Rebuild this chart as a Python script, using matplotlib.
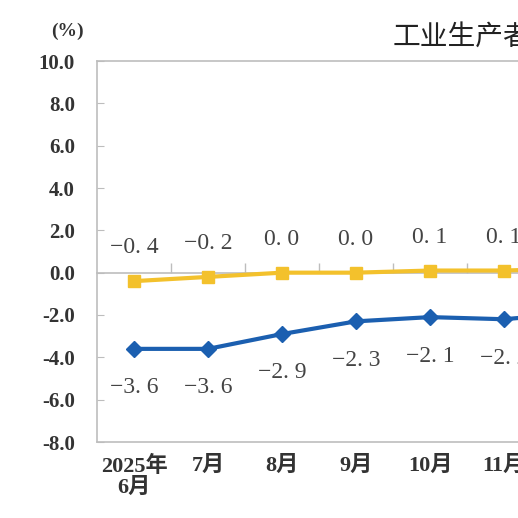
import matplotlib
matplotlib.use("Agg")
import matplotlib.pyplot as plt

# PPI year-on-year and month-on-month change (%)
months = ["2025年\n6月", "7月", "8月", "9月", "10月", "11月", "12月"]
mom = [-0.4, -0.2, 0.0, 0.0, 0.1, 0.1, 0.2]
yoy = [-3.6, -3.6, -2.9, -2.3, -2.1, -2.2, -1.9]
yticks = [-8, -6, -4, -2, 0, 2, 4, 6, 8, 10]

serif = ["Liberation Serif", "Noto Sans CJK SC"]
grey = "#bdbdbd"
gold = "#f3c12c"
blue = "#1b5fb0"

fig = plt.figure(figsize=(5.18, 5.18), dpi=100)
ax = fig.add_axes([97 / 518, 76 / 518, 518 / 518, 381 / 518])

x = list(range(len(months)))
ax.plot(x, mom, color=gold, lw=3, marker="s", ms=8, zorder=3)
ax.plot(x, yoy, color=blue, lw=3, marker="D", ms=8, zorder=3)

for xi, v in zip(x, mom):
    ax.annotate(f"{v:.1f}".replace("-", "\u2212").replace(".", ". "), (xi, v),
                xytext=(0, 24), textcoords="offset points", ha="center", va="center",
                fontsize=17, family=serif, color="#444444")
for xi, v in zip(x, yoy):
    ax.annotate(f"{v:.1f}".replace("-", "\u2212").replace(".", ". "), (xi, v),
                xytext=(0, -28), textcoords="offset points", ha="center", va="center",
                fontsize=17, family=serif, color="#444444")

ax.set_xlim(-0.5, len(months) - 0.5)
ax.set_ylim(-8, 10)
ax.set_yticks(yticks)
ax.set_yticklabels([f"{t:.1f}" for t in yticks], family=serif, fontsize=15,
                   fontweight="bold", color="#333333")
ax.set_xticks(x)
ax.set_xticklabels(months, family=serif, fontsize=16, fontweight="bold",
                   color="#333333", linespacing=1.05)
ax.tick_params(axis="x", length=0, pad=10)
ax.tick_params(axis="y", direction="in", length=5, color=grey, pad=16)
for s in ax.spines.values():
    s.set_color(grey)
    s.set_linewidth(1.2)

# category axis crossing at zero
zero = ax.secondary_xaxis(8 / 18)
zero.set_xticks([i + 0.5 for i in x[:-1]])
zero.set_xticklabels([])
zero.tick_params(direction="in", length=7, color=grey, width=1)
zero.spines["bottom"].set_color(grey)
zero.spines["bottom"].set_linewidth(1.2)

fig.text(67 / 518, 1 - 31 / 518, "(%)", family=serif, fontsize=14,
         fontweight="bold", color="#333333", ha="center", va="center")
fig.text(393 / 518, 1 - 38 / 518, "工业生产者出厂价格涨跌幅", family=["Noto Sans CJK SC"],
         fontsize=20, fontweight="medium", color="#222222", ha="left", va="center")

fig.savefig("out.png", dpi=100)
